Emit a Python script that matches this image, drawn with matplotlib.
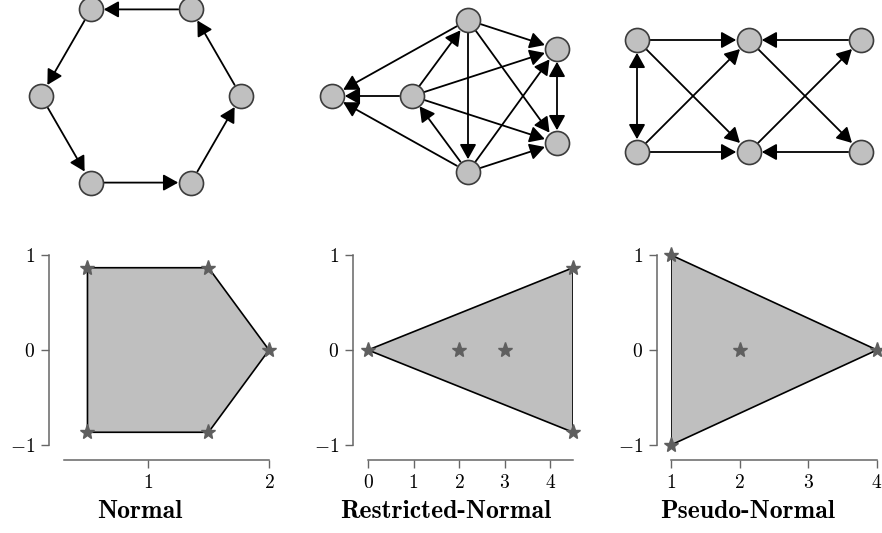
import matplotlib
matplotlib.use('Agg')
import matplotlib.pyplot as plt

plt.rcParams['mathtext.fontset'] = 'cm'
plt.rcParams['font.family'] = 'cmr10'
plt.rcParams['axes.unicode_minus'] = False

# ---- top row: directed graphs (node positions, edges) ----
# hexagon cycle
g1_nodes = [(1.0, 0.0), (0.5, 0.866), (-0.5, 0.866), (-1.0, 0.0), (-0.5, -0.866), (0.5, -0.866)]
g1_edges = [(0, 1), (1, 2), (2, 3), (3, 4), (4, 5), (5, 0)]
g1_both = []

# restricted-normal example
g2_nodes = [(-1.36, 0.0), (-0.56, 0.0), (0.0, 0.76), (0.0, -0.76), (0.89, 0.47), (0.89, -0.47)]
g2_edges = [(2, 0), (1, 0), (3, 0), (1, 2), (3, 1), (2, 3),
            (2, 4), (2, 5), (1, 4), (1, 5), (3, 4), (3, 5)]
g2_both = [(4, 5)]

# pseudo-normal example
g3_nodes = [(0, 1), (1, 1), (2, 1), (0, 0), (1, 0), (2, 0)]
g3_edges = [(0, 1), (2, 1), (0, 4), (3, 1), (3, 4), (5, 4), (1, 5), (4, 2)]
g3_both = [(0, 3)]

# ---- bottom row: polygons and star points ----
normal_poly_x = [0.5, 1.5, 2.0, 1.5, 0.5]
normal_poly_y = [0.866, 0.866, 0.0, -0.866, -0.866]
normal_pts_x = [0.5, 1.5, 2.0, 1.5, 0.5]
normal_pts_y = [0.866, 0.866, 0.0, -0.866, -0.866]
normal_xticks = [1, 2]

restr_poly_x = [0.0, 4.5, 4.5]
restr_poly_y = [0.0, 0.866, -0.866]
restr_pts_x = [0.0, 2.0, 3.0, 4.5, 4.5]
restr_pts_y = [0.0, 0.0, 0.0, 0.866, -0.866]
restr_xticks = [0, 1, 2, 3, 4]

pseudo_poly_x = [1.0, 4.0, 1.0]
pseudo_poly_y = [1.0, 0.0, -1.0]
pseudo_pts_x = [1.0, 1.0, 4.0, 2.0]
pseudo_pts_y = [1.0, -1.0, 0.0, 0.0]
pseudo_xticks = [1, 2, 3, 4]

yticks = [-1, 0, 1]
titles = ['Normal', 'Restricted-Normal', 'Pseudo-Normal']

W, H = 882, 533
fig = plt.figure(figsize=(W / 100, H / 100), dpi=100)


def px_axes(x0, y0, x1, y1):
    # pixel box (top-left origin) -> figure axes
    return fig.add_axes([x0 / W, 1 - y1 / H, (x1 - x0) / W, (y1 - y0) / H])


ARROW = '-|>,head_length=0.45,head_width=0.25'
BOTH = '<|-|>,head_length=0.45,head_width=0.25'


def draw_graph(ax, nodes, edges, both, xlim, ylim):
    ax.set_xlim(*xlim)
    ax.set_ylim(*ylim)
    ax.axis('off')
    for a, b in edges:
        ax.annotate('', xy=nodes[b], xytext=nodes[a],
                    arrowprops=dict(arrowstyle=ARROW, color='black', lw=1.3,
                                    shrinkA=9.2, shrinkB=9.2, mutation_scale=20))
    for a, b in both:
        ax.annotate('', xy=nodes[b], xytext=nodes[a],
                    arrowprops=dict(arrowstyle=BOTH, color='black', lw=1.3,
                                    shrinkA=9.2, shrinkB=9.2, mutation_scale=20))
    xs = [p[0] for p in nodes]
    ys = [p[1] for p in nodes]
    ax.plot(xs, ys, 'o', ms=17.3, mfc='#c0c0c0', mec='#3c3c3c', mew=1.2,
            ls='none', zorder=5, clip_on=False)


ax1 = px_axes(0, 0, 290, 200)
draw_graph(ax1, g1_nodes, g1_edges, g1_both, (-1.41, 1.49), (-1.04, 0.96))
ax2 = px_axes(300, 0, 600, 200)
draw_graph(ax2, g2_nodes, g2_edges, g2_both, (-1.68, 1.32), (-1.04, 0.96))
ax3 = px_axes(600, 0, 882, 200)
draw_graph(ax3, g3_nodes, g3_edges, g3_both, (-37 / 112, 245 / 112), (-48 / 112, 152 / 112))


def draw_poly(ax, px, py, sx, sy, xlim, xticks, left_off, title, tx):
    ax.fill(px, py, facecolor='#bfbfbf', edgecolor='black', lw=1.2, zorder=2)
    ax.plot(sx, sy, '*', ms=11, color='#5f5f5f', ls='none', zorder=3, clip_on=False)
    ax.set_xlim(*xlim)
    ax.set_ylim(-1, 1)
    ax.set_yticks(yticks, labels=['$%d$' % v if v >= 0 else '$-%d$' % -v for v in yticks])
    ax.set_xticks(xticks, labels=['$%d$' % v for v in xticks])
    for s in ['top', 'right']:
        ax.spines[s].set_visible(False)
    ax.spines['left'].set_position(('outward', left_off * 0.72))
    ax.spines['bottom'].set_position(('outward', 15 * 0.72))
    for s in ['left', 'bottom']:
        ax.spines[s].set_color('#666666')
        ax.spines[s].set_linewidth(1.1)
    ax.tick_params(length=5.5, width=1.0, color='#666666', labelsize=14, pad=4.5)
    ax.patch.set_visible(False)
    fig.text(tx / W, 1 - 511 / H, title, ha='center', va='center',
             fontfamily='cmb10', fontsize=18.5)


b1 = px_axes(64, 255, 269, 445)
draw_poly(b1, normal_poly_x, normal_poly_y, normal_pts_x, normal_pts_y,
          (0.306, 2.0), normal_xticks, 15, titles[0], 140)
b2 = px_axes(368, 255, 573, 445)
draw_poly(b2, restr_poly_x, restr_poly_y, restr_pts_x, restr_pts_y,
          (0.0, 4.5), restr_xticks, 15, titles[1], 446)
b3 = px_axes(671, 255, 877, 445)
draw_poly(b3, pseudo_poly_x, pseudo_poly_y, pseudo_pts_x, pseudo_pts_y,
          (1.0, 4.0), pseudo_xticks, 14, titles[2], 748)

fig.savefig('out.png', dpi=100)
